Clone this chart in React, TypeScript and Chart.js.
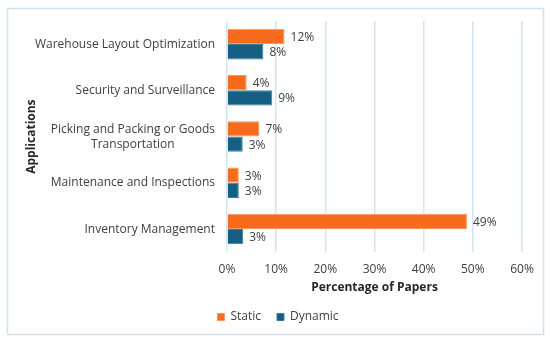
import React, { useEffect, useRef } from "react";
import { Chart, registerables } from "chart.js";

Chart.register(...registerables);

const categories: (string | string[])[] = [
  "Warehouse Layout Optimization",
  "Security and Surveillance",
  ["Picking and Packing or Goods", "Transportation"],
  "Maintenance and Inspections",
  "Inventory Management",
];
const staticValues = [11.7, 4.0, 6.6, 2.4, 48.8];
const dynamicValues = [7.4, 9.2, 3.2, 2.4, 3.3];
const staticLabels = ["12%", "4%", "7%", "3%", "49%"];
const dynamicLabels = ["8%", "9%", "3%", "3%", "3%"];
const xTicks = [0, 10, 20, 30, 40, 50, 60];

const FONT = "'Open Sans', sans-serif";

const frame = {
  id: "frame",
  beforeDraw(chart: any) {
    const ctx = chart.ctx;
    ctx.save();
    ctx.fillStyle = "#ffffff";
    ctx.fillRect(0, 0, chart.width, chart.height);
    ctx.strokeStyle = "#cfe2f1";
    ctx.lineWidth = 1.5;
    ctx.strokeRect(7.5, 8.5, 536, 326);
    ctx.restore();
  },
};

const legendShift = {
  id: "legendShift",
  afterLayout(chart: any) {
    const lg = chart.legend;
    if (lg) {
      lg.left += 5;
      lg.right += 5;
    }
  },
};

const categoryLabels = {
  id: "categoryLabels",
  afterDraw(chart: any) {
    const ctx = chart.ctx;
    const yScale = chart.scales.y;
    const right = chart.chartArea.left - 12;
    ctx.save();
    ctx.font = `12px ${FONT}`;
    ctx.fillStyle = "#404040";
    ctx.textAlign = "center";
    ctx.textBaseline = "middle";
    categories.forEach((lab, i) => {
      const lines = Array.isArray(lab) ? lab : [lab];
      const maxW = Math.max(...lines.map((l) => ctx.measureText(l).width));
      const cx = right - maxW / 2;
      const yc = yScale.getPixelForTick(i);
      const lh = 15;
      const y0 = yc - ((lines.length - 1) * lh) / 2;
      lines.forEach((l, k) => ctx.fillText(l, cx, y0 + k * lh));
    });
    ctx.restore();
  },
};

const valueLabels = {
  id: "valueLabels",
  afterDatasetsDraw(chart: any) {
    const ctx = chart.ctx;
    const lists = [staticLabels, dynamicLabels];
    ctx.save();
    ctx.font = `12px ${FONT}`;
    ctx.fillStyle = "#404040";
    ctx.textAlign = "left";
    ctx.textBaseline = "middle";
    chart.data.datasets.forEach((ds: any, i: number) => {
      const meta = chart.getDatasetMeta(i);
      meta.data.forEach((bar: any, j: number) => {
        ctx.fillText(lists[i][j], bar.x + 6, bar.y + 1);
      });
    });
    ctx.restore();
  },
};

export default function App() {
  const ref = useRef<HTMLCanvasElement | null>(null);
  useEffect(() => {
    if (!ref.current) return;
    const chart = new Chart(ref.current, {
      type: "bar",
      data: {
        labels: categories,
        datasets: [
          {
            label: "Static",
            data: staticValues,
            backgroundColor: "#f76b1d",
            borderColor: "#fb9560",
            borderWidth: 1,
            barPercentage: 1.0,
            categoryPercentage: 0.66,
          },
          {
            label: "Dynamic",
            data: dynamicValues,
            backgroundColor: "#156082",
            borderColor: "#3f7d9b",
            borderWidth: 1,
            barPercentage: 1.0,
            categoryPercentage: 0.66,
          },
        ],
      },
      options: {
        indexAxis: "y",
        animation: false,
        responsive: false,
        maintainAspectRatio: false,
        layout: { padding: { left: 24, right: 28, top: 21, bottom: 9 } },
        scales: {
          x: {
            min: 0,
            max: 60,
            afterBuildTicks: (scale: any) => {
              scale.ticks = xTicks.map((v) => ({ value: v }));
            },
            ticks: {
              callback: (v: any) => `${v}%`,
              color: "#404040",
              font: { family: FONT, size: 12 },
              padding: 10,
            },
            grid: { color: "#d3e5f2", lineWidth: 1.5, drawTicks: false },
            border: { display: false },
            title: {
              display: true,
              text: "Percentage of Papers",
              color: "#262626",
              font: { family: FONT, size: 12, weight: "bold" },
              padding: { top: -6, bottom: 0 },
            },
          },
          y: {
            afterFit: (scale: any) => {
              scale.width = 203;
            },
            ticks: {
              color: "rgba(0,0,0,0)",
              font: { family: FONT, size: 12 },
              padding: 12,
            },
            grid: { display: false, drawTicks: false },
            border: { display: false },
            title: {
              display: true,
              text: "Applications",
              color: "#262626",
              font: { family: FONT, size: 12, weight: "bold" },
              padding: 0,
            },
          },
        },
        plugins: {
          legend: {
            position: "bottom",
            labels: {
              boxWidth: 7,
              boxHeight: 7,
              padding: 16,
              color: "#404040",
              font: { family: FONT, size: 12 },
            },
          },
          tooltip: { enabled: false },
        },
      },
      plugins: [frame, legendShift, categoryLabels, valueLabels],
    } as any);
    return () => chart.destroy();
  }, []);
  return (
    <div style={{ position: "absolute", left: 0, top: 0, width: 550, height: 342 }}>
      <canvas ref={ref} width={550} height={342} style={{ width: 550, height: 342 }} />
    </div>
  );
}
